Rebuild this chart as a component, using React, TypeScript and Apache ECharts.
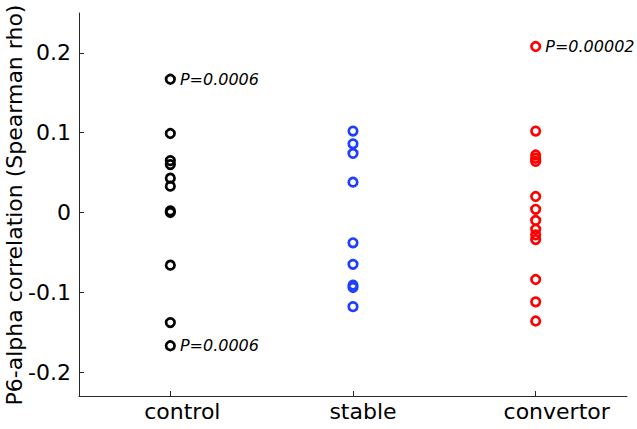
import React, { useEffect, useRef } from "react";
import * as echarts from "echarts";

const categories = ["control", "stable", "convertor"];
const controlValues = [0.167, 0.099, 0.065, 0.060, 0.043, 0.033, 0.002, 0.0, -0.066, -0.138, -0.167];
const stableValues = [0.102, 0.086, 0.074, 0.038, -0.038, -0.065, -0.091, -0.094, -0.118];
const convertorValues = [0.208, 0.102, 0.072, 0.068, 0.064, 0.020, 0.004, -0.010, -0.021, -0.028, -0.034, -0.084, -0.112, -0.136];
const yTickValues = [-0.2, -0.1, 0, 0.1, 0.2];
const annotations = [
  { category: "control", value: 0.167, text: "P=0.0006" },
  { category: "control", value: -0.167, text: "P=0.0006" },
  { category: "convertor", value: 0.208, text: "P=0.00002" },
];
const seriesColors = ["#000000", "#1f3fff", "#ff0000"];
const yAxisTitle = "P6-alpha correlation (Spearman rho)";

const FONT = "'DejaVu Sans', Verdana, sans-serif";
const TEXT_COLOR = "#262626";
const labelShift = [24, 20, 42];

export default function App() {
  const ref = useRef<HTMLDivElement>(null);
  useEffect(() => {
    if (!ref.current) return;
    const chart = echarts.init(ref.current, undefined, { renderer: "svg" });
    const groups = [controlValues, stableValues, convertorValues];
    const series = groups.map((vals, gi) => ({
      type: "scatter",
      symbol: "circle",
      symbolSize: 8.5,
      itemStyle: { color: "rgba(0,0,0,0)", borderColor: seriesColors[gi], borderWidth: 2.7, opacity: 1 },
      data: vals.map((v) => {
        const ann = annotations.find((a) => a.category === categories[gi] && a.value === v);
        const item: any = { value: [categories[gi], v] };
        if (ann) {
          item.label = {
            show: true,
            position: "right",
            distance: 4,
            formatter: ann.text,
            color: "#000",
            fontFamily: FONT,
            fontStyle: "italic",
            fontSize: 16,
          };
        }
        return item;
      }),
    }));
    const rich: any = {};
    categories.forEach((_, i) => {
      rich["c" + i] = { fontFamily: FONT, fontSize: 22, color: "#000", padding: [0, 0, 0, labelShift[i]] };
    });
    chart.setOption({
      animation: false,
      grid: { left: 79, right: 10, top: 13, bottom: 33, containLabel: false },
      xAxis: {
        type: "category",
        data: categories,
        boundaryGap: true,
        axisLine: { show: true, onZero: false, lineStyle: { color: TEXT_COLOR, width: 1 } },
        axisTick: { show: true, inside: true, alignWithLabel: true, interval: 0, length: 5, lineStyle: { color: TEXT_COLOR } },
        axisLabel: {
          color: "#000",
          fontFamily: FONT,
          fontSize: 22,
          margin: 4,
          interval: 0,
          hideOverlap: false,
          formatter: (v: string) => `{c${categories.indexOf(v)}|${v}}`,
          rich,
        },
        splitLine: { show: false },
      },
      yAxis: {
        type: "value",
        min: -0.23,
        max: 0.25,
        axisLine: { show: true, lineStyle: { color: TEXT_COLOR, width: 1 } },
        axisTick: { show: true, inside: true, length: 5, lineStyle: { color: TEXT_COLOR }, customValues: yTickValues },
        axisLabel: {
          color: "#000",
          fontFamily: FONT,
          fontSize: 22,
          margin: 8,
          customValues: yTickValues,
          formatter: (v: number) => (Math.abs(v) < 1e-9 ? "0" : String(Math.round(v * 10) / 10)),
        },
        splitLine: { show: false },
      },
      graphic: [
        {
          type: "text",
          x: 14,
          y: 205,
          rotation: Math.PI / 2,
          style: {
            text: yAxisTitle,
            font: `22px ${FONT}`,
            fill: "#000",
            align: "center",
            verticalAlign: "middle",
          },
        },
      ],
      series,
    });
    return () => chart.dispose();
  }, []);
  return <div ref={ref} style={{ position: "absolute", left: 0, top: 0, width: 637, height: 429 }} />;
}
